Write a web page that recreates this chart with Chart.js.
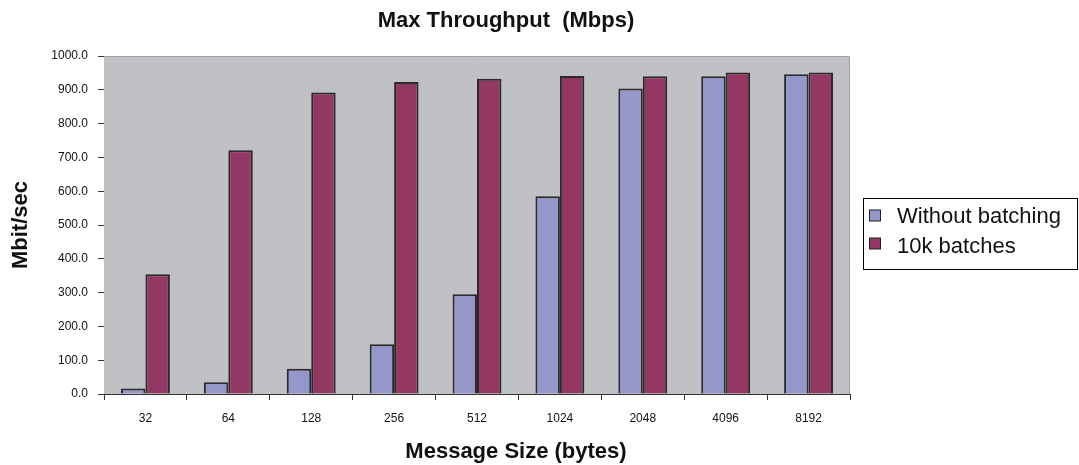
<!DOCTYPE html>
<html>
<head>
<meta charset="utf-8">
<script src="https://cdn.jsdelivr.net/npm/chart.js@4.4.0/dist/chart.umd.min.js"></script>
<style>
  html, body { margin: 0; padding: 0; background: #fff; }
  #chart { display: block; }
</style>
</head>
<body>
<canvas id="chart" width="1079" height="465"></canvas>
<script>
// message sizes (bytes)
var sizes = ['32', '64', '128', '256', '512', '1024', '2048', '4096', '8192'];
// Mbit/sec
var withoutBatching = [16, 35, 75, 147, 295, 585, 904, 940, 946];
var batches10k = [354, 721, 892, 923, 933, 941, 940, 951, 951];
var seriesNames = ['Without batching', '10k batches'];
var chartTitle = 'Max Throughput  (Mbps)';
var xTitle = 'Message Size (bytes)';
var yTitle = 'Mbit/sec';

var FONT = '"Liberation Sans", Arial, sans-serif';

// grey plot area, title, x title and the boxed legend
var excelLook = {
  id: 'excelLook',
  beforeDatasetsDraw: function(chart) {
    var a = chart.chartArea, ctx = chart.ctx;
    ctx.save();
    ctx.fillStyle = '#c0c1c5';
    ctx.fillRect(a.left, a.top, a.right - a.left, a.bottom - a.top);
    ctx.strokeStyle = '#a0a0a4';
    ctx.lineWidth = 1;
    ctx.beginPath();
    ctx.moveTo(a.left, a.top + 0.5);
    ctx.lineTo(a.right - 0.5, a.top + 0.5);
    ctx.lineTo(a.right - 0.5, a.bottom);
    ctx.stroke();
    ctx.restore();
  },
  afterDraw: function(chart) {
    var ctx = chart.ctx;
    ctx.save();
    ctx.fillStyle = '#111';
    ctx.textAlign = 'center';
    ctx.textBaseline = 'middle';
    ctx.font = 'bold 22px ' + FONT;
    ctx.fillText(chartTitle, 506, 21);
    ctx.fillText(xTitle, 516, 452);

    // legend
    ctx.strokeStyle = '#000';
    ctx.lineWidth = 1;
    ctx.strokeRect(863.5, 198.5, 214, 71);
    ctx.font = '22px ' + FONT;
    ctx.textAlign = 'left';
    var boxY = [215.5, 243.5];
    var textY = [217, 247];
    chart.data.datasets.forEach(function(ds, i) {
      ctx.fillStyle = ds.backgroundColor;
      ctx.fillRect(869, boxY[i] - 5.5, 11, 11);
      ctx.strokeStyle = '#222';
      ctx.strokeRect(869.5, boxY[i] - 5.5, 11, 11);
      ctx.fillStyle = '#111';
      ctx.fillText(ds.label, 897, textY[i]);
    });
    ctx.restore();
  }
};

var ctx = document.getElementById('chart');
var chart = new Chart(ctx, {
  type: 'bar',
  data: {
    labels: sizes,
    datasets: [
      {
        label: seriesNames[0],
        data: withoutBatching,
        backgroundColor: '#9596ca',
        borderColor: '#2a2a2a',
        borderWidth: 2
      },
      {
        label: seriesNames[1],
        data: batches10k,
        backgroundColor: '#923863',
        borderColor: '#2a2a2a',
        borderWidth: 2
      }
    ]
  },
  options: {
    responsive: false,
    animation: false,
    devicePixelRatio: 1,
    layout: { padding: { top: 56, right: 229, bottom: 0, left: 0 } },
    datasets: { bar: { categoryPercentage: 0.59, barPercentage: 1 } },
    plugins: {
      legend: { display: false },
      title: { display: false },
      tooltip: { enabled: false }
    },
    scales: {
      x: {
        afterFit: function(s) { s.height = 71; },
        grid: { offset: true, drawOnChartArea: false, drawTicks: true, tickLength: 6, color: '#333' },
        border: { color: '#333', width: 1 },
        ticks: { color: '#111', font: { family: FONT, size: 12 }, padding: 11, maxRotation: 0 }
      },
      y: {
        min: 0,
        max: 1000,
        afterFit: function(s) { s.width = 104; },
        grid: { drawOnChartArea: false, drawTicks: true, tickLength: 6, color: '#333' },
        border: { color: '#333', width: 1 },
        ticks: {
          stepSize: 100,
          color: '#111',
          padding: 10,
          font: { family: FONT, size: 12 },
          callback: function(v) { return v.toFixed(1); }
        },
        title: {
          display: true,
          text: yTitle,
          color: '#111',
          font: { family: FONT, size: 22, weight: 'bold' },
          padding: { top: 8, bottom: 0 }
        }
      }
    }
  },
  plugins: [excelLook]
});
</script>
</body>
</html>
